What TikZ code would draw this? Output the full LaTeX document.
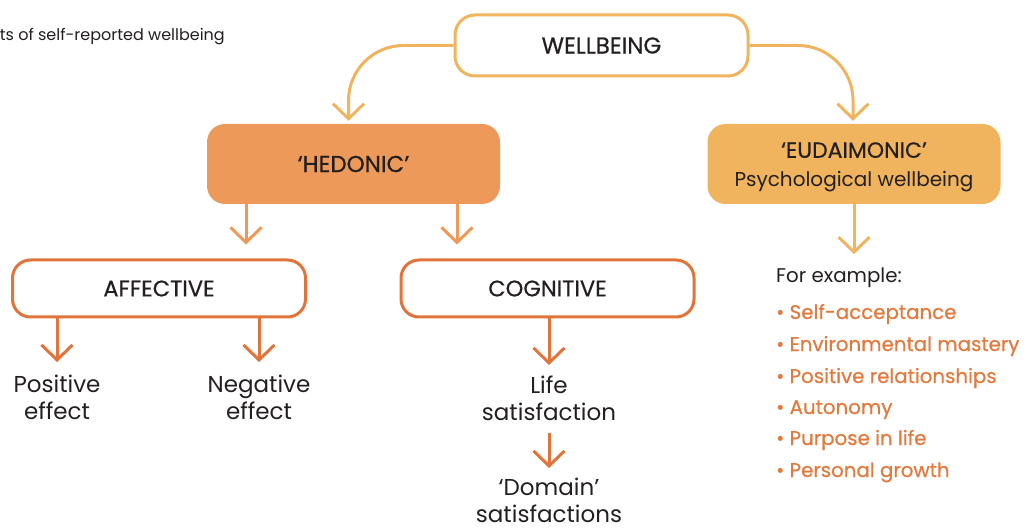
\documentclass[tikz,border=0pt]{standalone}
\usepackage{fontspec}
\setmainfont{Poppins}
\newfontfamily\medfont[FakeBold=0.6]{Poppins}
\usetikzlibrary{arrows.meta,positioning}
\definecolor{lightor}{HTML}{F0B45E}
\definecolor{hedor}{HTML}{EC995A}
\definecolor{darkor}{HTML}{E0743A}
\definecolor{bullor}{HTML}{E07A3E}
\definecolor{ink}{HTML}{231F20}
\tikzset{
  tip/.style={-{Straight Barb[length=15pt,width=31pt,line width=3pt]}, line width=3pt},
  hbox/.style={rounded corners=18pt, minimum width=293pt, minimum height=80pt, inner sep=0pt, align=center, text=ink},
  obox/.style={rounded corners=18pt, draw=darkor, line width=3pt, fill=white, minimum width=293pt, minimum height=57pt, inner sep=0pt, text=ink, font=\medfont\fontsize{22.5}{26}\selectfont},
  body/.style={align=center, anchor=north, text=ink, inner sep=0pt, font=\fontsize{23}{27}\selectfont},
  bul/.style={anchor=base west, text=bullor, inner sep=0pt, font=\medfont\fontsize{19.8}{24}\selectfont}
}
\begin{document}
\begin{tikzpicture}[x=1pt,y=-1pt]
\useasboundingbox (0,0) rectangle (1028,529);
\begin{scope}
\clip (0,0) rectangle (1028,529);
\node[anchor=base east, text=ink, inner sep=0pt, font=\fontsize{16}{19}\selectfont] (cap) at (225,41) {ts of self-reported wellbeing};
\end{scope}
% top
\node[rounded corners=20pt, draw=lightor, line width=3pt, fill=white, minimum width=293pt, minimum height=61pt, inner sep=0pt, text=ink, font=\medfont\fontsize{23}{26}\selectfont] (wb) at (601.5,45.5) {WELLBEING};
\node[hbox, fill=hedor, font=\medfont\fontsize{23}{26}\selectfont] (hed) at (353.5,164) {‘HEDONIC’};
\node[hbox, fill=lightor, font=\fontsize{20}{28}\selectfont] (eud) at (854,164) {\rule{0pt}{22pt}{\medfont\fontsize{22}{28}\selectfont ‘EUDAIMONIC’}\\[1pt]Psychological wellbeing};
\draw[tip, lightor, rounded corners=55pt] (wb.west) -| ([xshift=-5pt,yshift=3pt]hed.north);
\draw[tip, lightor, rounded corners=55pt] (wb.east) -| ([xshift=-1pt,yshift=3pt]eud.north);
% second level
\node[obox] (aff) at (159,288.5) {AFFECTIVE};
\node[obox] (cog) at (547.5,288.5) {COGNITIVE};
\coordinate (h1) at ([yshift=14pt]aff.north -| 246,0);
\coordinate (h2) at ([yshift=14pt]cog.north -| 457,0);
\draw[tip, hedor] (hed.south -| h1) -- (h1);
\draw[tip, hedor] (hed.south -| h2) -- (h2);
% affective children
\node[body] (pos) at (57,375) {Positive\\effect};
\node[body] (neg) at (259,375) {Negative\\effect};
\draw[tip, darkor] (aff.south -| pos) -- ([yshift=13pt]pos.north);
\draw[tip, darkor] (aff.south -| neg) -- ([yshift=13pt]neg.north);
% cognitive children
\node[body] (life) at (549,376) {Life\\satisfaction};
\node[body] (dom) at (549,478) {‘Domain’\\satisfactions};
\draw[tip, darkor] (cog.south -| life) -- ([yshift=11pt]life.north);
\draw[tip, darkor] ([yshift=-12pt]life.south) -- ([yshift=10pt]dom.north);
% eudaimonic
\node[anchor=base west, text=ink, inner sep=0pt, font=\fontsize{19.8}{24}\selectfont] (fe) at (776,283) {For example:};
\draw[tip, lightor] (eud.south) -- ([yshift=14pt]fe.north -| eud.south);
\node[bul] (b1) at (776,319) {• Self-acceptance};
\node[bul] (b2) at (776,351) {• Environmental mastery};
\node[bul] (b3) at (776,383) {• Positive relationships};
\node[bul] (b4) at (776,414) {• Autonomy};
\node[bul] (b5) at (776,445) {• Purpose in life};
\node[bul] (b6) at (776,477) {• Personal growth};
\end{tikzpicture}
\end{document}
